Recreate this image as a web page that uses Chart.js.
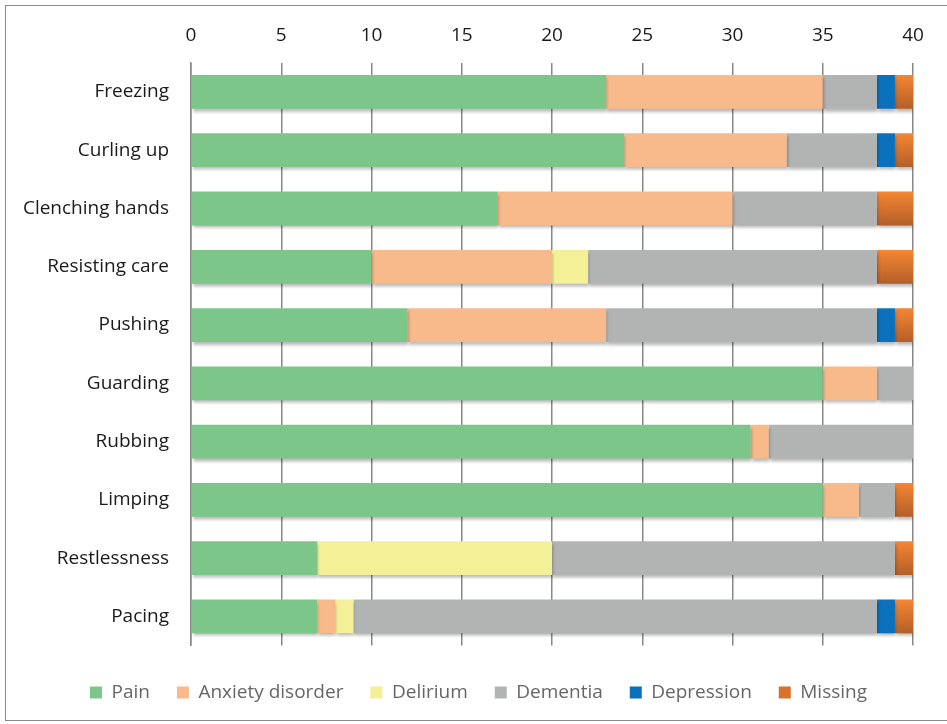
<!DOCTYPE html>
<html>
<head>
<meta charset="utf-8">
<script src="https://cdn.jsdelivr.net/npm/chart.js@4"></script>
<style>
  html, body { margin: 0; padding: 0; background: #fff; }
  body { width: 947px; height: 724px; position: relative; overflow: hidden; }
  .frame { position: absolute; left: 5px; top: 5px; width: 960px; height: 716px; border: 1px solid #8a8a8a; box-sizing: border-box; }
  #wrap { position: absolute; left: 0; top: 0; width: 947px; height: 724px; }
</style>
</head>
<body>
<div class="frame"></div>
<div id="wrap"><canvas id="chart" width="947" height="724"></canvas></div>
<script>
// categories and series (counts)
const categories = ['Freezing', 'Curling up', 'Clenching hands', 'Resisting care', 'Pushing',
                    'Guarding', 'Rubbing', 'Limping', 'Restlessness', 'Pacing'];
const pain       = [23, 24, 17, 10, 12, 35, 31, 35, 7, 7];
const anxiety    = [12, 9, 13, 10, 11, 3, 1, 2, 0, 1];
const delirium   = [0, 0, 0, 2, 0, 0, 0, 0, 13, 1];
const dementia   = [3, 5, 8, 16, 15, 2, 8, 2, 19, 29];
const depression = [1, 1, 0, 0, 1, 0, 0, 0, 0, 1];
const missing    = [1, 1, 2, 2, 1, 0, 0, 1, 1, 1];
const xTicks = [0, 5, 10, 15, 20, 25, 30, 35, 40];

const FONT = '"Open Sans", sans-serif';

// vertical orange gradient for each "Missing" bar
function missingFill(c) {
  const chart = c.chart;
  const y = chart.scales.y;
  if (!chart.chartArea || !y || c.dataIndex === undefined) return '#e67a2e';
  const mid = y.getPixelForValue(c.dataIndex);
  const h = 17;
  const g = chart.ctx.createLinearGradient(0, mid - h, 0, mid + h);
  g.addColorStop(0, '#f58634');
  g.addColorStop(1, '#b35f28');
  return g;
}

const barShadow = {
  id: 'barShadow',
  beforeDatasetsDraw(chart) {
    const ctx = chart.ctx;
    ctx.save();
    ctx.shadowColor = 'rgba(0,0,0,0.28)';
    ctx.shadowOffsetX = 1;
    ctx.shadowOffsetY = 3;
    ctx.shadowBlur = 3;
  },
  afterDatasetsDraw(chart) {
    chart.ctx.restore();
  }
};

// nudge the legend a little to the right, like the original
const legendShift = {
  id: 'legendShift',
  afterLayout(chart) {
    if (chart.legend) chart.legend.left += 34;
  }
};

const ds = (label, data, color) => ({
  label, data, backgroundColor: color, borderWidth: 0,
  barPercentage: 0.58, categoryPercentage: 1
});

new Chart(document.getElementById('chart'), {
  type: 'bar',
  data: {
    labels: categories,
    datasets: [
      ds('Pain', pain, '#7dc68a'),
      ds('Anxiety disorder', anxiety, '#f8b98b'),
      ds('Delirium', delirium, '#f4f098'),
      ds('Dementia', dementia, '#b2b4b4'),
      ds('Depression', depression, '#0b71bc'),
      ds('Missing', missing, missingFill)
    ]
  },
  options: {
    indexAxis: 'y',
    responsive: false,
    animation: false,
    layout: { padding: { left: 10, right: 34, top: 8, bottom: 12 } },
    scales: {
      x: {
        position: 'top',
        stacked: true,
        min: 0, max: 40,
        afterBuildTicks: s => { s.ticks = xTicks.map(v => ({ value: v })); },
        ticks: { font: { family: FONT, size: 19 }, color: '#1a1a1a', padding: 16 },
        grid: { color: '#888', lineWidth: 1.5, drawTicks: false },
        border: { display: false }
      },
      y: {
        stacked: true,
        afterFit: s => { s.width = 181; },
        ticks: { font: { family: FONT, size: 19 }, color: '#1a1a1a', padding: 22 },
        grid: { display: false, drawTicks: false },
        border: { display: true, color: '#888', width: 1.5 }
      }
    },
    plugins: {
      legend: {
        position: 'bottom',
        title: { display: true, text: ' ', font: { size: 2 }, padding: { top: 0, bottom: 8 } },
        labels: {
          font: { family: FONT, size: 19 },
          color: '#1a1a1a',
          boxWidth: 12, boxHeight: 12,
          padding: 27,
          generateLabels: chart => chart.data.datasets.map((d, i) => ({
            text: d.label,
            fillStyle: i === 5 ? '#d8722d' : d.backgroundColor,
            lineWidth: 0,
            strokeStyle: 'transparent',
            datasetIndex: i
          }))
        }
      },
      tooltip: { enabled: false }
    }
  },
  plugins: [barShadow, legendShift]
});
</script>
</body>
</html>
